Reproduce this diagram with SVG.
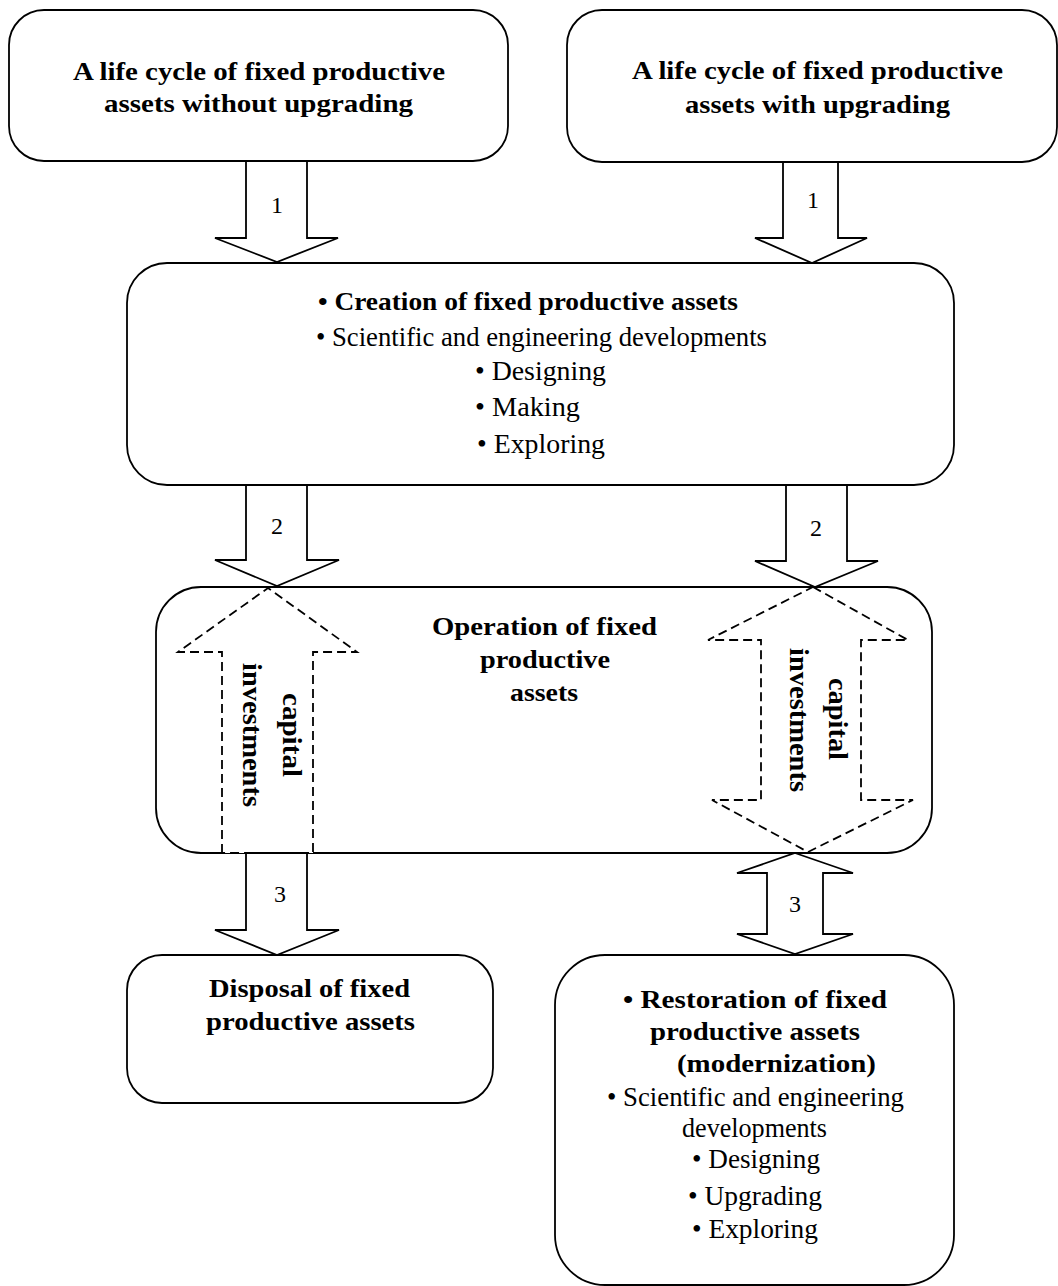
<svg xmlns="http://www.w3.org/2000/svg" width="1058" height="1286" viewBox="0 0 1058 1286" font-family="Liberation Serif, Times New Roman, serif">
<style>
.box{fill:#fff;stroke:#000;stroke-width:1.8}
.arr{fill:#fff;stroke:#000;stroke-width:1.8;stroke-linejoin:miter}
.dash{fill:#fff;stroke:#000;stroke-width:1.8;stroke-dasharray:9 5}
text{font-family:'Liberation Serif',serif;fill:#000}
.b{font-size:26px;font-weight:bold}
.r{font-size:27px}
.n{font-size:24px;text-anchor:middle}
.v{font-size:28px;font-weight:bold;text-anchor:middle}
</style>
<rect width="1058" height="1286" fill="#fff"/>
<g id="node-without">
<rect class="box" x="9" y="10" width="499" height="151" rx="35"/>
<text class="b" x="73" y="80" textLength="372" lengthAdjust="spacingAndGlyphs">A life cycle of fixed productive</text>
<text class="b" x="104" y="112" textLength="309" lengthAdjust="spacingAndGlyphs">assets without upgrading</text>
</g>
<g id="node-with">
<rect class="box" x="567" y="10" width="490" height="152" rx="35"/>
<text class="b" x="632" y="79" textLength="371" lengthAdjust="spacingAndGlyphs">A life cycle of fixed productive</text>
<text class="b" x="685" y="113" textLength="265" lengthAdjust="spacingAndGlyphs">assets with upgrading</text>
</g>
<g id="node-creation">
<rect class="box" x="127" y="263" width="827" height="222" rx="40"/>
<text class="b" x="318" y="310" textLength="420" lengthAdjust="spacingAndGlyphs">• Creation of fixed productive assets</text>
<text class="r" x="316" y="346" textLength="451" lengthAdjust="spacingAndGlyphs">• Scientific and engineering developments</text>
<text class="r" x="475" y="380" textLength="131" lengthAdjust="spacingAndGlyphs">• Designing</text>
<text class="r" x="475" y="416" textLength="105" lengthAdjust="spacingAndGlyphs">• Making</text>
<text class="r" x="477" y="453" textLength="128" lengthAdjust="spacingAndGlyphs">• Exploring</text>
</g>
<g id="node-operation">
<rect class="box" x="156" y="587" width="776" height="266" rx="45"/>
<text class="b" x="432" y="635" textLength="225" lengthAdjust="spacingAndGlyphs">Operation of fixed</text>
<text class="b" x="480" y="668" textLength="130" lengthAdjust="spacingAndGlyphs">productive</text>
<text class="b" x="510" y="701" textLength="68" lengthAdjust="spacingAndGlyphs">assets</text>
</g>
<g id="node-disposal">
<rect class="box" x="127" y="955" width="366" height="148" rx="35"/>
<text class="b" x="209" y="997" textLength="201" lengthAdjust="spacingAndGlyphs">Disposal of fixed</text>
<text class="b" x="206" y="1030" textLength="209" lengthAdjust="spacingAndGlyphs">productive assets</text>
</g>
<g id="node-restoration">
<rect class="box" x="555" y="955" width="399" height="330" rx="50"/>
<text class="b" x="623" y="1008" textLength="264" lengthAdjust="spacingAndGlyphs">• Restoration of fixed</text>
<text class="b" x="650" y="1040" textLength="210" lengthAdjust="spacingAndGlyphs">productive assets</text>
<text class="b" x="677" y="1072" textLength="199" lengthAdjust="spacingAndGlyphs">(modernization)</text>
<text class="r" x="607" y="1106" textLength="297" lengthAdjust="spacingAndGlyphs">• Scientific and engineering</text>
<text class="r" x="682" y="1137" textLength="145" lengthAdjust="spacingAndGlyphs">developments</text>
<text class="r" x="692" y="1168" textLength="128" lengthAdjust="spacingAndGlyphs">• Designing</text>
<text class="r" x="688" y="1205" textLength="134" lengthAdjust="spacingAndGlyphs">• Upgrading</text>
<text class="r" x="692" y="1238" textLength="126" lengthAdjust="spacingAndGlyphs">• Exploring</text>
</g>
<g id="connectors">
<polygon class="arr" points="246,161 246,238 215,238 277,262 338,238 307,238 307,161"/>
<text class="n" x="277" y="213">1</text>
<polygon class="arr" points="783,162 783,238 755,238 812,263 867,238 838,238 838,162"/>
<text class="n" x="813" y="208">1</text>
<polygon class="arr" points="246,485 246,560 215,560 277,586 339,560 307,560 307,485"/>
<text class="n" x="277" y="534">2</text>
<polygon class="arr" points="786,485 786,561 755,561 815,587 878,561 847,561 847,485"/>
<text class="n" x="816" y="536">2</text>
<polygon class="dash" points="222,853 222,652 178,652 268,588 357,652 313,652 313,853"/>
<text class="v" transform="translate(283,735) rotate(90)" textLength="84" lengthAdjust="spacingAndGlyphs">capital</text>
<text class="v" transform="translate(243,735) rotate(90)" textLength="144" lengthAdjust="spacingAndGlyphs">investments</text>
<polygon class="dash" points="813,587 908,640 861,640 861,800 913,800 808,852 712,800 761,800 761,640 708,640"/>
<text class="v" transform="translate(829,719) rotate(90)" textLength="82" lengthAdjust="spacingAndGlyphs">capital</text>
<text class="v" transform="translate(790,720) rotate(90)" textLength="144" lengthAdjust="spacingAndGlyphs">investments</text>
<polygon class="arr" points="246,853 246,930 215,930 277,955 339,930 307,930 307,853"/>
<text class="n" x="280" y="902">3</text>
<polygon class="arr" points="795,853 853,873 823,873 823,934 853,934 795,954 737,934 767,934 767,873 737,873"/>
<text class="n" x="795" y="912">3</text>
</g>
</svg>
